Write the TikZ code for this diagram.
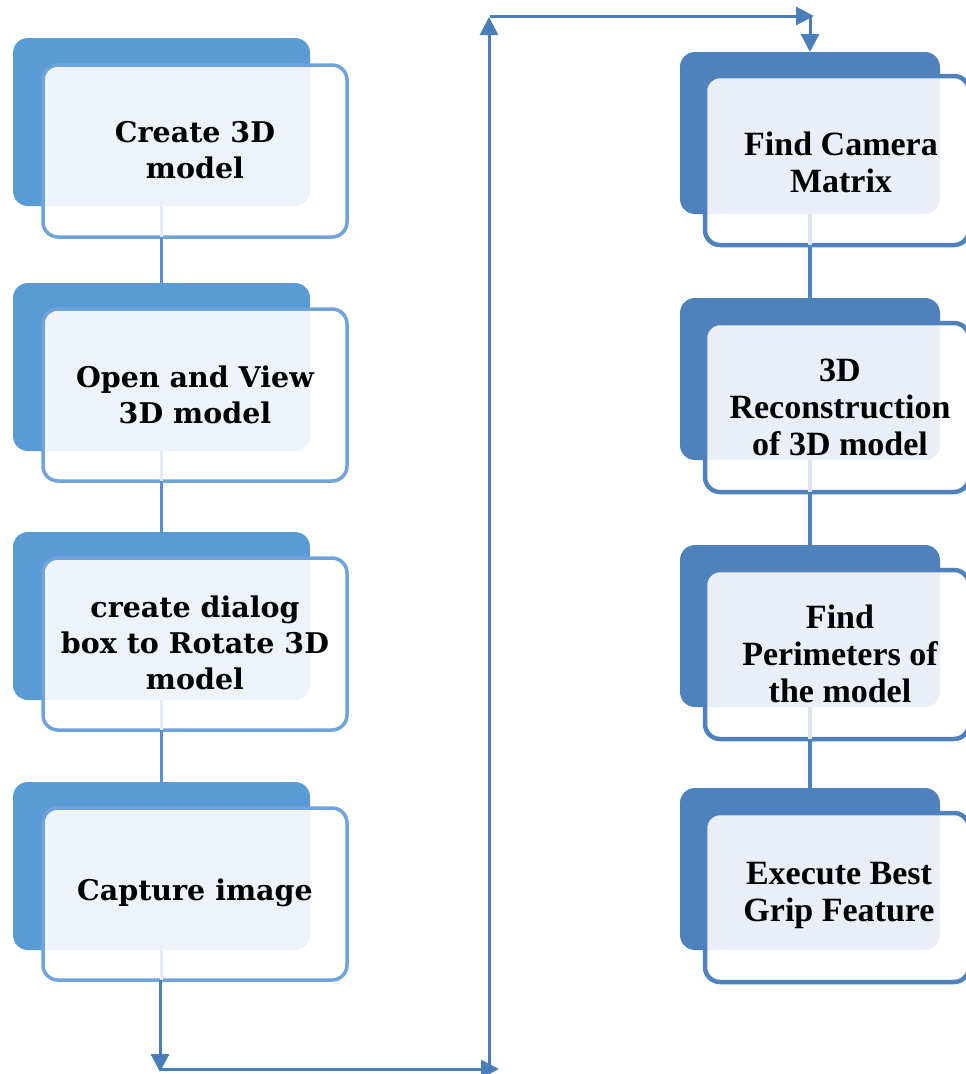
\documentclass[tikz,border=0pt]{standalone}
\usepackage{fontspec}
\newfontfamily\tnr{Liberation Serif}
\newfontfamily\dvs{DejaVu Serif}
\usetikzlibrary{arrows.meta}
\definecolor{backL}{HTML}{5B9BD5}
\definecolor{backR}{HTML}{4F81BD}
\definecolor{lightL}{HTML}{EEF3FA}
\definecolor{lightR}{HTML}{EAEFF7}
\definecolor{lineL}{HTML}{6FA3DA}
\definecolor{lineR}{HTML}{4F81BD}
\definecolor{connL}{HTML}{5B8FCB}
\definecolor{conn}{HTML}{4A7EBB}
\definecolor{faintL}{HTML}{E2EBF6}
\definecolor{faintR}{HTML}{DCE4F0}
\tikzset{
  backbox/.style={rounded corners=15pt, inner sep=0pt, outer sep=0pt, anchor=north west},
  backLbox/.style={backbox, fill=backL, minimum width=297pt, minimum height=168pt},
  backRbox/.style={backbox, fill=backR, minimum width=260pt, minimum height=162pt},
  frontLbox/.style={backbox, fill=white, draw=lineL, line width=3.5pt,
    minimum width=304pt, minimum height=172pt,
    path picture={\fill[lightL, rounded corners=15pt] (#1.north west) rectangle (#1.south east);}},
  frontRbox/.style={backbox, fill=white, draw=lineR, line width=4.5pt,
    minimum width=264pt, minimum height=169pt,
    path picture={\fill[lightR, rounded corners=15pt] (#1.north west) rectangle (#1.south east);}},
  txtL/.style={align=center, inner sep=0pt, font=\dvs\bfseries\fontsize{28.5}{36}\selectfont},
  txtR/.style={align=center, inner sep=0pt, font=\tnr\bfseries\fontsize{34}{37}\selectfont},
  linkL/.style={draw=connL, line width=3.5pt},
  linkR/.style={draw=lineR, line width=4.5pt},
  faintlinkL/.style={draw=faintL, line width=3.5pt},
  faintlinkR/.style={draw=faintR, line width=4.5pt},
  flow/.style={draw=conn, line width=3pt, -{Triangle[length=18pt,width=18pt]}},
}
\begin{document}
\begin{tikzpicture}[x=1pt,y=-1pt]
\useasboundingbox (0,0) rectangle (966,1074);
\clip (0,0) rectangle (966,1074);
% left column
\node[backLbox] (b1) at (13,38) {};
\node[frontLbox=b1] (f1) at (43,65) {};
\node[txtL] (t1) at (195,150) {Create 3D\\model};
\node[backLbox] (b2) at (13,283) {};
\node[frontLbox=b2] (f2) at (43,309) {};
\node[txtL] (t2) at (195,395) {Open and View\\3D model};
\node[backLbox] (b3) at (13,532) {};
\node[frontLbox=b3] (f3) at (43,558) {};
\node[txtL] (t3) at (195,643) {create dialog\\box to Rotate 3D\\model};
\node[backLbox] (b4) at (13,782) {};
\node[frontLbox=b4] (f4) at (43,808) {};
\node[txtL] (t4) at (195,893) {Capture image};
% right column
\node[backRbox] (b5) at (680,52) {};
\node[frontRbox=b5] (f5) at (705,76) {};
\node[txtR] (t5) at (841,162) {Find Camera\\Matrix};
\node[backRbox] (b6) at (680,298) {};
\node[frontRbox=b6] (f6) at (705,323) {};
\node[txtR] (t6) at (840,407) {3D\\Reconstruction\\of 3D model};
\node[backRbox] (b7) at (680,545) {};
\node[frontRbox=b7] (f7) at (705,570) {};
\node[txtR] (t7) at (840,654) {Find\\Perimeters of\\the model};
\node[backRbox] (b8) at (680,788) {};
\node[frontRbox=b8] (f8) at (705,813) {};
\node[txtR] (t8) at (839,895) {Execute Best\\Grip Feature};
% vertical links
\foreach \a/\b in {1/2,2/3,3/4}{
  \path[faintlinkL] (b\a.south) -- (b\a.south |- f\a.south);
  \path[linkL] (b\a.south |- f\a.south) -- (b\b.north);
}
\foreach \a/\b in {5/6,6/7,7/8}{
  \path[faintlinkR] (b\a.south) -- (b\a.south |- f\a.south);
  \path[linkR] (b\a.south |- f\a.south) -- (b\b.north);
}
\path[faintlinkL] (b4.south) -- (b4.south |- f4.south);
% flow arrows
\coordinate (c1) at (160,1072);
\coordinate (c2) at (499,1069);
\coordinate (c3) at (489,1069);
\coordinate (c4) at (489,17);
\coordinate (c5) at (490,16);
\coordinate (c6) at (814,16);
\coordinate (c7) at (810,17);
\path[flow] (c1 |- f4.south) -- (c1);
\path[flow] (c1 |- c2) -- (c2);
\path[flow] (c3) -- (c4);
\path[flow] (c5) -- (c6);
\path[flow] (c7) -- (b5.north);
\end{tikzpicture}
\end{document}
